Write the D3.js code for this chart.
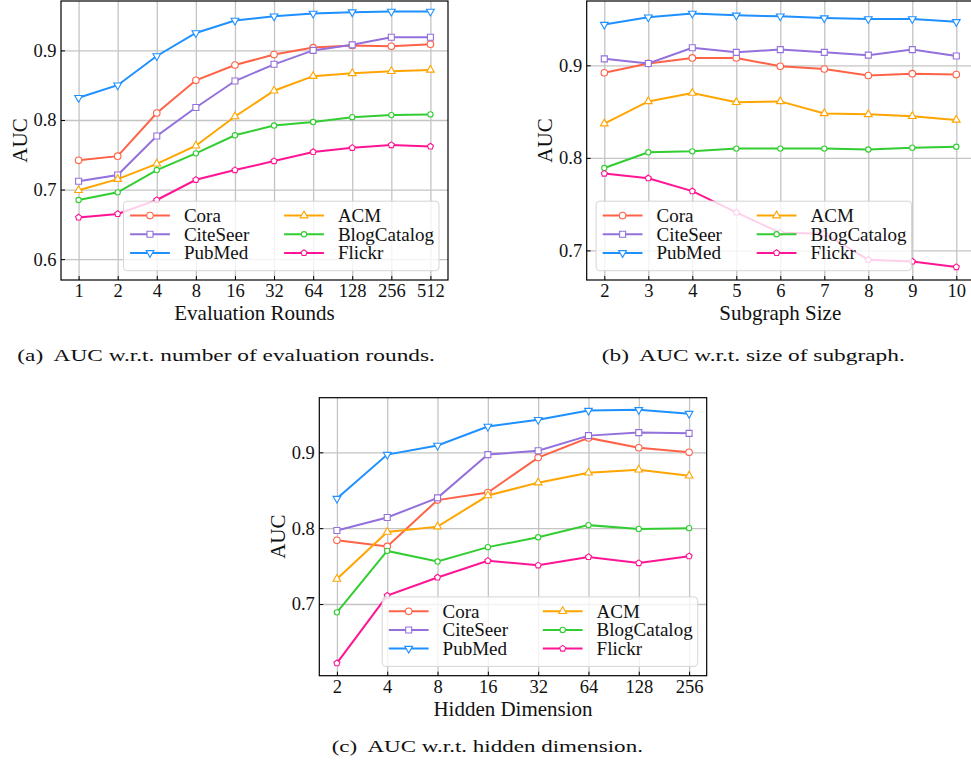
<!DOCTYPE html>
<html>
<head>
<meta charset="utf-8">
<script src="https://cdn.jsdelivr.net/npm/d3@7"></script>
<style>
  body { margin: 0; background: #fff; }
  svg text { font-family: "Liberation Serif", "Times New Roman", serif; fill: #111; }
</style>
</head>
<body>
<svg id="fig" width="971" height="765"></svg>
<script>
// series names, in legend order (column by column)
const seriesNames = ["Cora", "CiteSeer", "PubMed", "ACM", "BlogCatalog", "Flickr"];

// (a) evaluation rounds
const roundsLabels = ["1", "2", "4", "8", "16", "32", "64", "128", "256", "512"];
const roundsCora = [0.742, 0.748, 0.810, 0.857, 0.879, 0.894, 0.904, 0.907, 0.906, 0.909];
const roundsCiteSeer = [0.712, 0.721, 0.777, 0.818, 0.856, 0.880, 0.900, 0.908, 0.919, 0.919];
const roundsPubMed = [0.832, 0.850, 0.892, 0.925, 0.943, 0.949, 0.953, 0.955, 0.956, 0.956];
const roundsACM = [0.699, 0.715, 0.737, 0.763, 0.805, 0.842, 0.863, 0.867, 0.870, 0.872];
const roundsBlog = [0.685, 0.696, 0.728, 0.752, 0.778, 0.792, 0.797, 0.804, 0.807, 0.808];
const roundsFlickr = [0.660, 0.665, 0.685, 0.714, 0.728, 0.741, 0.754, 0.760, 0.764, 0.762];

// (b) subgraph size
const sizeLabels = ["2", "3", "4", "5", "6", "7", "8", "9", "10"];
const sizeCora = [0.892, 0.902, 0.908, 0.908, 0.899, 0.896, 0.889, 0.891, 0.890];
const sizeCiteSeer = [0.907, 0.902, 0.919, 0.914, 0.917, 0.914, 0.911, 0.917, 0.910];
const sizePubMed = [0.944, 0.952, 0.956, 0.954, 0.953, 0.951, 0.950, 0.950, 0.947];
const sizeACM = [0.837, 0.861, 0.870, 0.860, 0.861, 0.848, 0.847, 0.845, 0.841];
const sizeBlog = [0.789, 0.806, 0.807, 0.810, 0.810, 0.810, 0.809, 0.811, 0.812];
const sizeFlickr = [0.783, 0.778, 0.764, 0.741, 0.719, 0.718, 0.690, 0.688, 0.682];

// (c) hidden dimension
const dimLabels = ["2", "4", "8", "16", "32", "64", "128", "256"];
const dimCora = [0.784, 0.776, 0.837, 0.847, 0.893, 0.919, 0.906, 0.900];
const dimCiteSeer = [0.797, 0.814, 0.840, 0.897, 0.902, 0.922, 0.926, 0.925];
const dimPubMed = [0.839, 0.897, 0.909, 0.934, 0.943, 0.955, 0.956, 0.951];
const dimACM = [0.733, 0.795, 0.802, 0.843, 0.860, 0.873, 0.877, 0.869];
const dimBlog = [0.689, 0.770, 0.756, 0.775, 0.788, 0.804, 0.799, 0.800];
const dimFlickr = [0.622, 0.711, 0.735, 0.757, 0.751, 0.762, 0.754, 0.763];

const colors = ["#ff6347", "#9370db", "#1e90ff", "#ffa500", "#32cd32", "#ff1493"];

// pentagon marker, d3 has none
const symbolPentagon = {
  draw(ctx, size) {
    const r = Math.sqrt(size / 2.378);
    for (let i = 0; i < 5; i++) {
      const a = -Math.PI / 2 + i * 2 * Math.PI / 5;
      if (i === 0) ctx.moveTo(r * Math.cos(a), r * Math.sin(a));
      else ctx.lineTo(r * Math.cos(a), r * Math.sin(a));
    }
    ctx.closePath();
  }
};
const markers = [
  {type: d3.symbolCircle, size: 34, rot: 0},
  {type: d3.symbolSquare, size: 36, rot: 0},
  {type: d3.symbolTriangle, size: 26, rot: 180},
  {type: d3.symbolTriangle, size: 26, rot: 0},
  {type: d3.symbolCircle, size: 22, rot: 0},
  {type: symbolPentagon, size: 24, rot: 0}
];

const svg = d3.select("#fig");

function drawPanel(p) {
  const w = p.right - p.left, h = p.bottom - p.top;
  const n = p.labels.length;
  const pad = (n - 1) * 0.05;
  const x = d3.scaleLinear().domain([-pad, n - 1 + pad]).range([p.left, p.right]);
  const y = d3.scaleLinear().domain(p.ydom).range([p.bottom, p.top]);
  const idx = d3.range(n);

  const g = svg.append("g");
  const clipId = "clip" + p.id;
  g.append("clipPath").attr("id", clipId)
    .append("rect").attr("x", p.left).attr("y", p.top).attr("width", w).attr("height", h);

  // grid
  const gx = g.append("g").attr("transform", `translate(0,${p.bottom})`)
    .call(d3.axisBottom(x).tickValues(idx).tickSize(-h).tickFormat(""));
  const gy = g.append("g").attr("transform", `translate(${p.left},0)`)
    .call(d3.axisLeft(y).tickValues(p.yticks).tickSize(-w).tickFormat(""));
  [gx, gy].forEach(a => {
    a.select(".domain").remove();
    a.selectAll("line").attr("stroke", "#c4c4c4").attr("stroke-width", 1.3);
  });

  // lines + markers
  const plot = g.append("g").attr("clip-path", `url(#${clipId})`);
  p.series.forEach((vals, si) => {
    const line = d3.line().x((d, i) => x(i)).y(d => y(d));
    plot.append("path").datum(vals)
      .attr("d", line).attr("fill", "none")
      .attr("stroke", colors[si]).attr("stroke-width", 2);
    const m = markers[si];
    plot.selectAll(null).data(vals).enter().append("path")
      .attr("d", d3.symbol().type(m.type).size(m.size))
      .attr("transform", (d, i) => `translate(${x(i)},${y(d)}) rotate(${m.rot})`)
      .attr("fill", "#fff").attr("stroke", colors[si]).attr("stroke-width", 1.1);
  });

  // axes with inward ticks
  const ax = g.append("g").attr("transform", `translate(0,${p.bottom})`)
    .call(d3.axisBottom(x).tickValues(idx).tickFormat(i => p.labels[i])
      .tickSizeInner(-4).tickSizeOuter(0).tickPadding(4));
  const ay = g.append("g").attr("transform", `translate(${p.left},0)`)
    .call(d3.axisLeft(y).tickValues(p.yticks).tickFormat(d3.format(".1f"))
      .tickSizeInner(-4).tickSizeOuter(0).tickPadding(4.5));
  [ax, ay].forEach(a => {
    a.select(".domain").remove();
    a.selectAll("line").attr("stroke", "#000").attr("stroke-width", 1);
    a.selectAll("text").attr("font-size", 18.5).attr("font-family", "Liberation Serif").attr("fill", "#111");
  });

  g.append("rect").attr("x", p.left).attr("y", p.top).attr("width", w).attr("height", h)
    .attr("fill", "none").attr("stroke", "#000").attr("stroke-width", 1.2);

  g.append("text").attr("x", (p.left + p.right) / 2).attr("y", p.bottom + 40)
    .attr("text-anchor", "middle").attr("font-size", 21).text(p.xlabel);
  g.append("text")
    .attr("transform", `translate(${p.left - 34.5},${(p.top + p.bottom) / 2}) rotate(-90)`)
    .attr("text-anchor", "middle").attr("font-size", 21).text("AUC");

  // legend
  const lw = 315.5, lh = 69.5;
  const lx = p.legend === "left" ? p.left + 9.4 : p.right - 9 - lw;
  const ly = p.bottom - 9.3 - lh;
  const lg = g.append("g").attr("transform", `translate(${lx},${ly})`);
  lg.append("rect").attr("width", lw).attr("height", lh).attr("rx", 3.5)
    .attr("fill", "#fff").attr("fill-opacity", 0.8)
    .attr("stroke", "#d6d6d6").attr("stroke-width", 1);
  seriesNames.forEach((name, si) => {
    const col = Math.floor(si / 3), row = si % 3;
    const ox = col * 154, oy = 14.4 + row * 18.65;
    lg.append("line").attr("x1", ox + 6.6).attr("x2", ox + 46.4).attr("y1", oy).attr("y2", oy)
      .attr("stroke", colors[si]).attr("stroke-width", 2);
    const m = markers[si];
    lg.append("path").attr("d", d3.symbol().type(m.type).size(m.size))
      .attr("transform", `translate(${ox + 26.5},${oy}) rotate(${m.rot})`)
      .attr("fill", "#fff").attr("stroke", colors[si]).attr("stroke-width", 1.1);
    lg.append("text").attr("x", ox + 60.4).attr("y", oy + 6.4)
      .attr("font-size", 19).text(name);
  });
}

drawPanel({
  id: "a", left: 61, right: 448, top: 1, bottom: 280, ydom: [0.570, 0.971],
  yticks: [0.6, 0.7, 0.8, 0.9], labels: roundsLabels, xlabel: "Evaluation Rounds", legend: "right",
  series: [roundsCora, roundsCiteSeer, roundsPubMed, roundsACM, roundsBlog, roundsFlickr]
});
drawPanel({
  id: "b", left: 586.7, right: 973.9, top: 1, bottom: 280, ydom: [0.668, 0.9695],
  yticks: [0.7, 0.8, 0.9], labels: sizeLabels, xlabel: "Subgraph Size", legend: "left",
  series: [sizeCora, sizeCiteSeer, sizePubMed, sizeACM, sizeBlog, sizeFlickr]
});
drawPanel({
  id: "c", left: 319.3, right: 706.7, top: 397.7, bottom: 675.7, ydom: [0.6055, 0.972],
  yticks: [0.7, 0.8, 0.9], labels: dimLabels, xlabel: "Hidden Dimension", legend: "right",
  series: [dimCora, dimCiteSeer, dimPubMed, dimACM, dimBlog, dimFlickr]
});

// captions: stretch horizontally to the width of the original (Computer Modern is wider)
const captions = [
  {text: "(a)  AUC w.r.t. number of evaluation rounds.", x: 17.3, y: 360.5, len: 417.7},
  {text: "(b)  AUC w.r.t. size of subgraph.", x: 601.7, y: 360.5, len: 303.3},
  {text: "(c)  AUC w.r.t. hidden dimension.", x: 331.7, y: 751.8, len: 311.3}
];
captions.forEach(c => {
  const t = svg.append("text").attr("x", 0).attr("y", 0).attr("font-size", 17)
    .style("white-space", "pre").text(c.text);
  const natural = t.node().getComputedTextLength();
  t.attr("transform", `translate(${c.x},${c.y}) scale(${c.len / natural},1)`);
});
</script>
</body>
</html>
